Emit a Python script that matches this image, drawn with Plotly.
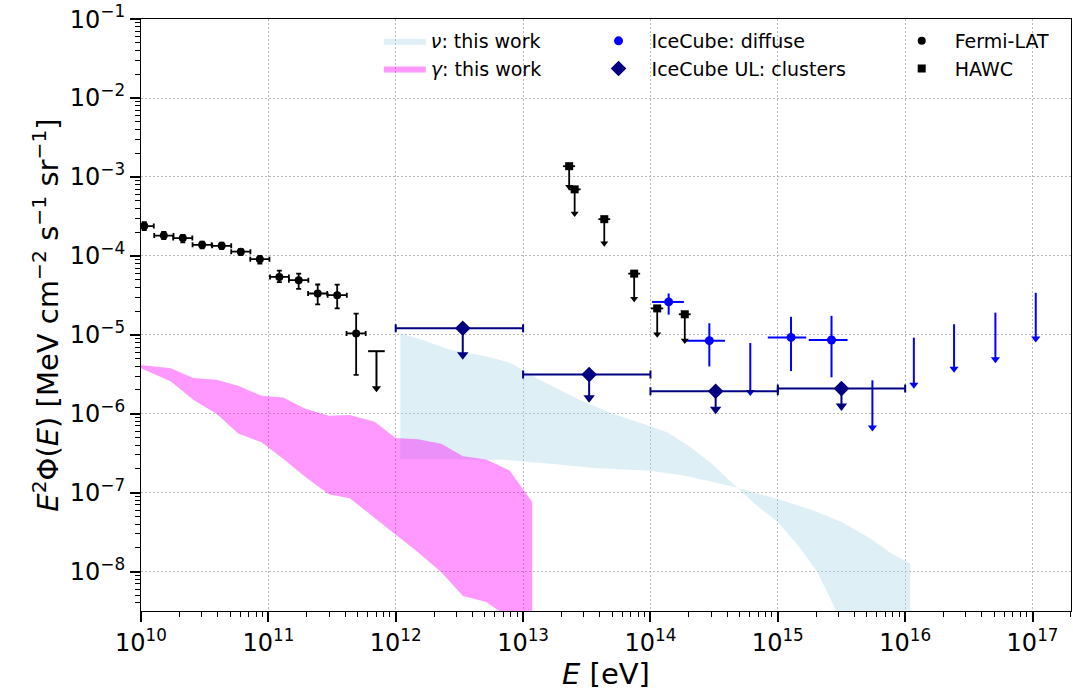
import plotly.graph_objects as go
import numpy as np

# ---------------- data ----------------
# Fermi-LAT (E in eV, E^2 Phi in MeV cm^-2 s^-1 sr^-1)
fermi_E = [1.06e10, 1.51e10, 2.13e10, 3.02e10, 4.30e10, 6.08e10, 8.57e10,
           1.22e11, 1.73e11, 2.44e11, 3.47e11, 4.89e11]
fermi_E_lo = [0.891e10, 1.27e10, 1.79e10, 2.54e10, 3.62e10, 5.11e10, 7.21e10,
              1.03e11, 1.45e11, 2.05e11, 2.92e11, 4.11e11]
fermi_E_hi = [1.26e10, 1.80e10, 2.53e10, 3.59e10, 5.11e10, 7.23e10, 1.02e11,
              1.45e11, 2.06e11, 2.90e11, 4.13e11, 5.81e11]
fermi_flux = [2.39e-4, 1.81e-4, 1.68e-4, 1.38e-4, 1.34e-4, 1.13e-4, 9.1e-5,
              5.42e-5, 4.92e-5, 3.34e-5, 3.18e-5, 1.04e-5]
fermi_flux_hi = [2.68e-4, 2.01e-4, 1.85e-4, 1.52e-4, 1.47e-4, 1.23e-4, 1.00e-4,
                 6.5e-5, 5.97e-5, 4.34e-5, 4.32e-5, 1.85e-5]
fermi_flux_lo = [2.13e-4, 1.63e-4, 1.48e-4, 1.25e-4, 1.22e-4, 1.02e-4, 8.0e-5,
                 4.65e-5, 3.83e-5, 2.43e-5, 2.16e-5, 3.1e-6]
fermi_ul_E = [7.06e11]
fermi_ul_E_lo = [6.07e11]
fermi_ul_E_hi = [8.2e11]
fermi_ul_flux = [6.2e-6]
fermi_ul_tip = [2.1e-6]

# HAWC (upper limits)
hawc_E = [2.30e13, 2.54e13, 4.34e13, 7.45e13, 1.13e14, 1.86e14]
hawc_E_lo = [2.06e13, 2.28e13, 3.90e13, 6.69e13, 1.01e14, 1.67e14]
hawc_E_hi = [2.56e13, 2.83e13, 4.83e13, 8.30e13, 1.26e14, 2.07e14]
hawc_flux = [1.37e-3, 6.97e-4, 2.92e-4, 5.96e-5, 2.16e-5, 1.82e-5]
hawc_tip = [7.5e-4, 3.45e-4, 1.45e-4, 2.86e-5, 1.02e-5, 8.5e-6]

# IceCube diffuse
icd_E = [1.39e14, 2.90e14, 1.27e15, 2.64e15]
icd_E_lo = [1.03e14, 1.91e14, 8.34e14, 1.75e15]
icd_E_hi = [1.83e14, 3.85e14, 1.67e15, 3.53e15]
icd_flux = [2.61e-5, 8.43e-6, 9.27e-6, 8.59e-6]
icd_flux_hi = [3.34e-5, 1.40e-5, 1.69e-5, 1.74e-5]
icd_flux_lo = [1.80e-5, 3.97e-6, 3.47e-6, 2.89e-6]
icd_ul_E = [6.08e14, 5.53e15, 1.17e16, 2.42e16, 5.11e16, 1.06e17]
icd_ul_flux = [7.87e-6, 2.65e-6, 9.2e-6, 1.36e-5, 1.91e-5, 3.41e-5]
icd_ul_tip = [1.89e-6, 6.67e-7, 2.33e-6, 3.71e-6, 4.91e-6, 9.0e-6]

# IceCube UL: clusters
icc_E = [3.36e12, 3.30e13, 3.25e14, 3.16e15]
icc_E_lo = [1e12, 1e13, 1e14, 1e15]
icc_E_hi = [1e13, 1e14, 1e15, 1e16]
icc_flux = [1.21e-5, 3.13e-6, 1.93e-6, 2.08e-6]
icc_tip = [5.6e-6, 1.59e-6, 1.14e-6, 1.25e-6]

# gamma band (log10 E, log10 E^2 Phi)
gam_up_logE = [9.95, 10.0, 10.235, 10.41, 10.593, 10.763, 10.946, 11.116, 11.286, 11.474,
               11.639, 11.835, 12.0, 12.175, 12.358, 12.528, 12.711, 12.894, 13.072]
gam_up_logF = [-5.36, -5.382, -5.424, -5.546, -5.571, -5.647, -5.773, -5.794, -5.933, -6.025,
               -6.017, -6.101, -6.307, -6.324, -6.382, -6.538, -6.580, -6.718, -7.118]
gam_lo_logE = [9.95, 10.0, 10.235, 10.41, 10.593, 10.763, 10.946, 11.116, 11.299, 11.474,
               11.639, 11.835, 12.0, 12.175, 12.358, 12.528, 12.711, 12.829, 12.95, 13.072]
gam_lo_logF = [-5.40, -5.424, -5.592, -5.824, -6.0, -6.252, -6.361, -6.571, -6.811, -7.021,
               -7.071, -7.315, -7.534, -7.756, -8.008, -8.311, -8.387, -8.513, -8.65, -8.8]

# neutrino band
nu_up_logE = [12.036, 12.204, 12.428, 12.708, 12.903, 13.127, 13.435, 13.715, 13.994, 14.134,
              14.302, 14.470, 14.666, 14.834, 15.001, 15.169, 15.309, 15.449, 15.55, 16.04]
nu_up_logF = [-4.979, -5.063, -5.189, -5.273, -5.357, -5.567, -5.819, -6.008, -6.155, -6.239,
              -6.408, -6.618, -6.912, -7.164, -7.374, -7.689, -8.004, -8.466, -8.8, -8.8]
nu_lo_logE = [12.036, 12.428, 12.848, 13.267, 13.547, 13.994, 14.274, 14.498, 14.666, 15.001,
              15.281, 15.505, 15.729, 15.896, 16.04]
nu_lo_logF = [-6.576, -6.576, -6.584, -6.639, -6.689, -6.723, -6.786, -6.870, -6.933, -7.080,
              -7.227, -7.374, -7.584, -7.773, -7.899]

# tick labels (decade exponents)
x_tick_exps = [10, 11, 12, 13, 14, 15, 16, 17]
y_tick_exps = [-8, -7, -6, -5, -4, -3, -2, -1]

# ---------------- helpers ----------------
def err_asym(val, lo, hi, color, width, thick):
    return dict(type="data", symmetric=False,
                array=[h - v for v, h in zip(val, hi)],
                arrayminus=[v - l for v, l in zip(val, lo)],
                color=color, width=width, thickness=thick)

def err_down(val, tip, color, thick):
    return dict(type="data", symmetric=False,
                array=[0.0] * len(val),
                arrayminus=[v - t for v, t in zip(val, tip)],
                color=color, width=0, thickness=thick)

FONT = "DejaVu Sans"
fig = go.Figure()

# bands
nu_x = [10 ** e for e in nu_up_logE] + [10 ** e for e in nu_lo_logE[::-1]]
nu_y = [10 ** f for f in nu_up_logF] + [10 ** f for f in nu_lo_logF[::-1]]
fig.add_trace(go.Scatter(x=nu_x, y=nu_y, fill="toself", mode="lines",
                         line=dict(width=0), fillcolor="rgba(173,216,230,0.4)",
                         name="<i>ν</i>: this work", legend="legend", hoverinfo="skip"))
g_x = [10 ** e for e in gam_up_logE] + [10 ** e for e in gam_lo_logE[::-1]]
g_y = [10 ** f for f in gam_up_logF] + [10 ** f for f in gam_lo_logF[::-1]]
fig.add_trace(go.Scatter(x=g_x, y=g_y, fill="toself", mode="lines",
                         line=dict(width=0), fillcolor="rgba(255,0,255,0.4)",
                         name="<i>γ</i>: this work", legend="legend", hoverinfo="skip"))

# IceCube diffuse
fig.add_trace(go.Scatter(x=icd_E, y=icd_flux, mode="markers", name="IceCube: diffuse",
                         legend="legend2",
                         marker=dict(symbol="circle", size=9, color="blue"),
                         error_x=err_asym(icd_E, icd_E_lo, icd_E_hi, "blue", 0, 2),
                         error_y=err_asym(icd_flux, icd_flux_lo, icd_flux_hi, "blue", 0, 2)))
fig.add_trace(go.Scatter(x=icd_ul_E, y=icd_ul_flux, mode="markers", showlegend=False,
                         marker=dict(size=1, color="blue", opacity=0),
                         error_y=err_down(icd_ul_flux, icd_ul_tip, "blue", 2)))
fig.add_trace(go.Scatter(x=icd_ul_E, y=icd_ul_tip, mode="markers", showlegend=False,
                         marker=dict(symbol="triangle-down", size=8, color="blue")))

# IceCube UL clusters
fig.add_trace(go.Scatter(x=icc_E, y=icc_flux, mode="markers", name="IceCube UL: clusters",
                         legend="legend2",
                         marker=dict(symbol="diamond", size=12, color="#000080"),
                         error_x=err_asym(icc_E, icc_E_lo, icc_E_hi, "#000080", 4, 2),
                         error_y=err_down(icc_flux, icc_tip, "#000080", 2)))
fig.add_trace(go.Scatter(x=icc_E, y=icc_tip, mode="markers", showlegend=False,
                         marker=dict(symbol="triangle-down", size=10, color="#000080")))

# Fermi-LAT
fig.add_trace(go.Scatter(x=fermi_E, y=fermi_flux, mode="markers", name="Fermi-LAT",
                         legend="legend3",
                         marker=dict(symbol="circle", size=8, color="black"),
                         error_x=err_asym(fermi_E, fermi_E_lo, fermi_E_hi, "black", 2.5, 1.8),
                         error_y=err_asym(fermi_flux, fermi_flux_lo, fermi_flux_hi, "black", 2.5, 1.8)))
fig.add_trace(go.Scatter(x=fermi_ul_E, y=fermi_ul_flux, mode="markers", showlegend=False,
                         marker=dict(size=1, color="black", opacity=0),
                         error_x=err_asym(fermi_ul_E, fermi_ul_E_lo, fermi_ul_E_hi, "black", 0, 2),
                         error_y=err_down(fermi_ul_flux, fermi_ul_tip, "black", 2)))
fig.add_trace(go.Scatter(x=fermi_ul_E, y=fermi_ul_tip, mode="markers", showlegend=False,
                         marker=dict(symbol="triangle-down", size=8, color="black")))

# HAWC
fig.add_trace(go.Scatter(x=hawc_E, y=hawc_flux, mode="markers", name="HAWC",
                         legend="legend3",
                         marker=dict(symbol="square", size=8, color="black"),
                         error_x=err_asym(hawc_E, hawc_E_lo, hawc_E_hi, "black", 0, 1.8),
                         error_y=err_down(hawc_flux, hawc_tip, "black", 1.8)))
fig.add_trace(go.Scatter(x=hawc_E, y=hawc_tip, mode="markers", showlegend=False,
                         marker=dict(symbol="triangle-down", size=7, color="black")))

def minor_vals(n0, n1):
    return [m * 10.0 ** n for n in range(n0, n1) for m in range(2, 10)]

def axis_common(exps, mv):
    return dict(
        type="log", tickmode="array",
        tickvals=[10.0 ** e for e in exps],
        ticktext=["10<sup>%s</sup>" % str(e).replace("-", "−") for e in exps],
        showline=True, linecolor="black", linewidth=1.2, mirror=True,
        ticks="outside", ticklen=10, tickwidth=1.5, tickcolor="black",
        showgrid=True, gridcolor="#b8b8b8", griddash="1.5px,2.5px", gridwidth=1,
        zeroline=False, ticklabeloverflow="allow",
        tickfont=dict(family=FONT, size=24, color="black"),
        minor=dict(ticks="outside", ticklen=5, tickwidth=1.2, tickcolor="black",
                   tickmode="array", tickvals=mv, showgrid=False),
    )

LEG_FONT = dict(family=FONT, size=19)
fig.update_layout(
    width=1073, height=699,
    margin=dict(l=141, r=1, t=14, b=88),
    paper_bgcolor="white", plot_bgcolor="white",
    font=dict(family=FONT, color="black"),
    xaxis=dict(range=[10, 17.302],
               title=dict(text="<i>E</i> [eV]", font=dict(family=FONT, size=29), standoff=4),
               **axis_common(x_tick_exps, minor_vals(10, 18))),
    yaxis=dict(range=[-8.5, -0.998],
               title=dict(text="<i>E</i><sup>2</sup>Φ(<i>E</i>) [MeV cm<sup>−2</sup> s<sup>−1</sup> sr<sup>−1</sup>]",
                          font=dict(family=FONT, size=29), standoff=2),
               **axis_common(y_tick_exps, minor_vals(-9, -1))),
    legend=dict(x=0.2557, y=0.995, xanchor="left", yanchor="top",
                bgcolor="rgba(0,0,0,0)", font=LEG_FONT, itemwidth=42),
    legend2=dict(x=0.478, y=0.995, xanchor="left", yanchor="top",
                 bgcolor="rgba(0,0,0,0)", font=LEG_FONT, itemwidth=56),
    legend3=dict(x=0.804, y=0.995, xanchor="left", yanchor="top",
                 bgcolor="rgba(0,0,0,0)", font=LEG_FONT, itemwidth=56),
    showlegend=True,
)

fig.write_html("out.html")
